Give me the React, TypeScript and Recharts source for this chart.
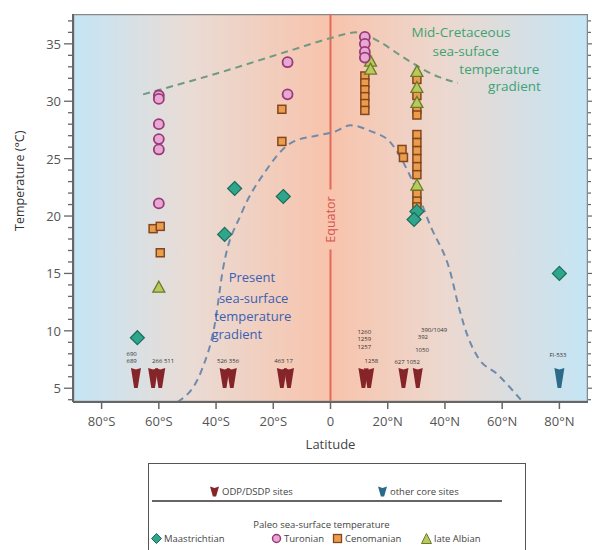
import React from "react";
import {
  ComposedChart,
  XAxis,
  YAxis,
  Scatter,
  Line,
  ReferenceArea,
  ReferenceLine,
} from "recharts";

// ---------- data ----------
const xTicks = [-80, -60, -40, -20, 0, 20, 40, 60, 80];
const yTicks = [4, 5, 6, 7, 8, 9, 10, 11, 12, 13, 14, 15, 16, 17, 18, 19, 20, 21, 22, 23, 24, 25, 26, 27, 28, 29, 30, 31, 32, 33, 34, 35, 36, 37];

const maastrichtian = [
  { lat: -67.5, t: 9.4 },
  { lat: -37, t: 18.4 },
  { lat: -33.5, t: 22.4 },
  { lat: -16.5, t: 21.7 },
  { lat: 30.2, t: 20.4 },
  { lat: 29.2, t: 19.7 },
  { lat: 80, t: 15.0 },
];

const turonian = [
  { lat: -60, t: 30.5 },
  { lat: -60, t: 30.2 },
  { lat: -60, t: 28.0 },
  { lat: -60, t: 26.7 },
  { lat: -60, t: 25.8 },
  { lat: -60, t: 21.1 },
  { lat: -15, t: 33.4 },
  { lat: -15, t: 30.6 },
  { lat: 12, t: 35.6 },
  { lat: 12, t: 35.0 },
  { lat: 12, t: 34.3 },
  { lat: 12, t: 33.8 },
];

const cenomanian = [
  { lat: -62, t: 18.9 },
  { lat: -59.5, t: 19.1 },
  { lat: -59.5, t: 16.8 },
  { lat: -17, t: 29.3 },
  { lat: -17, t: 26.5 },
  { lat: 12, t: 32.2 },
  { lat: 12, t: 31.6 },
  { lat: 12, t: 31.0 },
  { lat: 12, t: 30.4 },
  { lat: 12, t: 29.8 },
  { lat: 12, t: 29.2 },
  { lat: 25, t: 25.8 },
  { lat: 25.5, t: 25.1 },
  { lat: 30.2, t: 31.9 },
  { lat: 30.2, t: 30.5 },
  { lat: 30.2, t: 29.3 },
  { lat: 30.2, t: 28.8 },
  { lat: 30.2, t: 27.1 },
  { lat: 30.2, t: 26.4 },
  { lat: 30.2, t: 25.7 },
  { lat: 30.2, t: 25.0 },
  { lat: 30.2, t: 24.3 },
  { lat: 30.2, t: 23.6 },
  { lat: 30.2, t: 21.9 },
  { lat: 30.2, t: 21.3 },
  { lat: 30.2, t: 20.8 },
];

const lateAlbian = [
  { lat: -60, t: 13.8 },
  { lat: 14, t: 33.5 },
  { lat: 14, t: 32.8 },
  { lat: 30.2, t: 32.6 },
  { lat: 30.2, t: 31.2 },
  { lat: 30.2, t: 29.9 },
  { lat: 30.2, t: 22.7 },
];

const odpSites = [
  { lat: -68, t: 5.9 },
  { lat: -62, t: 5.9 },
  { lat: -59.5, t: 5.9 },
  { lat: -37, t: 5.9 },
  { lat: -34.5, t: 5.9 },
  { lat: -17, t: 5.9 },
  { lat: -14.5, t: 5.9 },
  { lat: 11.5, t: 5.9 },
  { lat: 13.5, t: 5.9 },
  { lat: 25.5, t: 5.9 },
  { lat: 30.5, t: 5.9 },
];

const otherSites = [{ lat: 80, t: 5.9 }];

const siteLabels = [
  { lat: -69.5, t: 7.95, text: "690" },
  { lat: -69.5, t: 7.35, text: "689" },
  { lat: -58.5, t: 7.35, text: "266 511" },
  { lat: -35.8, t: 7.35, text: "526 356" },
  { lat: -16.4, t: 7.35, text: "463 17" },
  { lat: 11.8, t: 9.9, text: "1260" },
  { lat: 11.8, t: 9.25, text: "1259" },
  { lat: 11.8, t: 8.6, text: "1257" },
  { lat: 14.3, t: 7.4, text: "1258" },
  { lat: 26.8, t: 7.3, text: "627 1052" },
  { lat: 32, t: 8.3, text: "1050" },
  { lat: 32.3, t: 9.45, text: "392" },
  { lat: 36.2, t: 10.1, text: "390/1049" },
  { lat: 79.5, t: 7.9, text: "FI-533" },
];

const midCretaceous = [
  { lat: -65.5, t: 30.6 },
  { lat: -40, t: 32.4 },
  { lat: -13, t: 34.5 },
  { lat: 0, t: 35.5 },
  { lat: 9, t: 36.0 },
  { lat: 17, t: 35.2 },
  { lat: 25, t: 33.9 },
  { lat: 38, t: 32.1 },
  { lat: 44.5, t: 31.6 },
];

const present = [
  { lat: -53.5, t: 3.8 },
  { lat: -45, t: 6.6 },
  { lat: -40.5, t: 10.5 },
  { lat: -37.5, t: 15.5 },
  { lat: -31, t: 20.3 },
  { lat: -23, t: 23.8 },
  { lat: -13.6, t: 26.4 },
  { lat: -5, t: 27.0 },
  { lat: 1, t: 27.3 },
  { lat: 7, t: 27.9 },
  { lat: 14, t: 27.4 },
  { lat: 21, t: 26.4 },
  { lat: 28, t: 23.4 },
  { lat: 35, t: 19.1 },
  { lat: 42, t: 15.0 },
  { lat: 44.5, t: 12.4 },
  { lat: 48, t: 9.5 },
  { lat: 51.5, t: 7.7 },
  { lat: 58.4, t: 6.2 },
  { lat: 66.5, t: 4.0 },
];

const midCretText = [
  { lat: 45.6, t: 36.0, text: "Mid-Cretaceous" },
  { lat: 47.3, t: 34.4, text: "sea-suface" },
  { lat: 59, t: 32.8, text: "temperature" },
  { lat: 64.3, t: 31.3, text: "gradient" },
];

const presentText = [
  { lat: -35.6, t: 14.7, text: "Present" },
  { lat: -39, t: 12.9, text: "sea-surface" },
  { lat: -40.6, t: 11.3, text: "temperature" },
  { lat: -41.6, t: 9.7, text: "gradient" },
];

const equatorLabel = [{ lat: 0, t: 19.7, text: "Equator" }];

// ---------- styles ----------
const FONT = "'Open Sans', 'DejaVu Sans', sans-serif";
const C = {
  maas: { fill: "#2fa68c", stroke: "#1a6d5c" },
  tur: { fill: "#e8a8d4", stroke: "#9a3a78" },
  cen: { fill: "#eb9d4e", stroke: "#84461e" },
  alb: { fill: "#b7cb5c", stroke: "#6c7b2a" },
  odp: "#862529",
  other: "#2b6a88",
};

const Diamond = (p: any) => (
  <path
    d={`M${p.cx},${p.cy - 7} L${p.cx + 7},${p.cy} L${p.cx},${p.cy + 7} L${p.cx - 7},${p.cy} Z`}
    fill={C.maas.fill}
    stroke={C.maas.stroke}
    strokeWidth={1.2}
  />
);
const Circle = (p: any) => (
  <circle cx={p.cx} cy={p.cy} r={5} fill={C.tur.fill} stroke={C.tur.stroke} strokeWidth={1.8} />
);
const Square = (p: any) => (
  <rect x={p.cx - 4} y={p.cy - 4} width={8} height={8} fill={C.cen.fill} stroke={C.cen.stroke} strokeWidth={1.5} />
);
const Triangle = (p: any) => (
  <path
    d={`M${p.cx},${p.cy - 6} L${p.cx + 6},${p.cy + 5} L${p.cx - 6},${p.cy + 5} Z`}
    fill={C.alb.fill}
    stroke={C.alb.stroke}
    strokeWidth={1.3}
  />
);
const siteShape = (color: string) => (p: any) => (
  <path
    d={`M${p.cx - 5},${p.cy - 10} L${p.cx},${p.cy - 8.5} L${p.cx + 5},${p.cy - 10} L${p.cx + 1.8},${p.cy + 10} L${p.cx - 1.8},${p.cy + 10} Z`}
    fill={color}
  />
);
const SmallText = (p: any) => (
  <text x={p.cx} y={p.cy} textAnchor="middle" dominantBaseline="central" fontSize={6} fill="#333" fontFamily={FONT}>
    {p.payload.text}
  </text>
);
const MidText = (p: any) => (
  <text x={p.cx} y={p.cy} textAnchor="middle" dominantBaseline="central" fontSize={13.5} fill="#3da374" fontFamily={FONT}>
    {p.payload.text}
  </text>
);
const PresentTxt = (p: any) => (
  <text x={p.cx} y={p.cy} textAnchor="start" dominantBaseline="central" fontSize={13} fill="#3b5fb3" fontFamily={FONT}>
    {p.payload.text}
  </text>
);
const EquatorTxt = (p: any) => (
  <g>
    <rect x={p.cx - 8} y={p.cy - 30} width={16} height={60} fill="#f8c4ad" />
    <text
      x={p.cx}
      y={p.cy}
      transform={`rotate(-90, ${p.cx}, ${p.cy})`}
      textAnchor="middle"
      dominantBaseline="central"
      fontSize={12.5}
      fill="#d4554f"
      fontFamily={FONT}
    >
      {p.payload.text}
    </text>
  </g>
);

const fmtLat = (v: number) => (v < 0 ? `${-v}°S` : v > 0 ? `${v}°N` : "0");

const XTick = (p: any) => (
  <g>
    <line x1={p.x} x2={p.x} y1={p.y} y2={p.y + 7} stroke="#666" strokeWidth={1.5} />
    <text x={p.x} y={p.y + 19} textAnchor="middle" dominantBaseline="central" fontSize={13} fill="#555" fontFamily={FONT}>
      {fmtLat(p.payload.value)}
    </text>
  </g>
);
const YTick = (p: any) => {
  const v = p.payload.value;
  const major = v % 5 === 0;
  return (
    <g>
      <line x1={p.x - (major ? 9 : 5)} x2={p.x} y1={p.y} y2={p.y} stroke="#666" strokeWidth={1.3} />
      {major && (
        <text x={p.x - 12} y={p.y} textAnchor="end" dominantBaseline="central" fontSize={13} fill="#555" fontFamily={FONT}>
          {v}
        </text>
      )}
    </g>
  );
};
const YTickRight = (p: any) => {
  const v = p.payload.value;
  const major = v % 5 === 0;
  return <line x1={p.x} x2={p.x + (major ? 4 : 3)} y1={p.y} y2={p.y} stroke="#666" strokeWidth={1.2} />;
};

const LegendIcon = ({ kind, color }: { kind: string; color?: string }) => {
  const s = 11;
  let el: any = null;
  if (kind === "site") el = <path d="M1,0.5 L5.5,2 L10,0.5 L7.1,10.5 L3.9,10.5 Z" fill={color} />;
  if (kind === "maas") el = <path d="M5.5,0.5 L10.5,5.5 L5.5,10.5 L0.5,5.5 Z" fill={C.maas.fill} stroke={C.maas.stroke} />;
  if (kind === "tur") el = <circle cx={5.5} cy={5.5} r={4} fill={C.tur.fill} stroke={C.tur.stroke} strokeWidth={1.5} />;
  if (kind === "cen") el = <rect x={1.5} y={1.5} width={8} height={8} fill={C.cen.fill} stroke={C.cen.stroke} strokeWidth={1.3} />;
  if (kind === "alb") el = <path d="M5.5,0.5 L10.5,10.5 L0.5,10.5 Z" fill={C.alb.fill} stroke={C.alb.stroke} />;
  return (
    <svg width={s} height={s} style={{ display: "inline-block", verticalAlign: "-2px", marginRight: 2 }}>
      {el}
    </svg>
  );
};

const row: React.CSSProperties = { position: "absolute", whiteSpace: "nowrap", lineHeight: "12px", height: 12 };

export default function App() {
  return (
    <div style={{ position: "absolute", left: 0, top: 0, width: 592, height: 550, background: "#fff", fontFamily: FONT, overflow: "hidden" }}>
      <svg width={0} height={0} style={{ position: "absolute" }}>
        <defs>
          <linearGradient id="bgGrad" x1="0" y1="0" x2="1" y2="0">
            <stop offset="0%" stopColor="#c4e5f5" />
            <stop offset="22%" stopColor="#e9dcd6" />
            <stop offset="50%" stopColor="#f8c3ab" />
            <stop offset="72%" stopColor="#ecd8cf" />
            <stop offset="100%" stopColor="#c4e5f5" />
          </linearGradient>
        </defs>
      </svg>
      <ComposedChart width={592} height={460} margin={{ top: 14, right: 0, bottom: 0, left: 0 }}>
        <XAxis
          type="number"
          dataKey="lat"
          domain={[-90, 90]}
          ticks={xTicks}
          allowDataOverflow
          height={58}
          tickSize={0}
          tickMargin={0}
          tick={<XTick />}
          tickLine={false}
          axisLine={{ stroke: "#666", strokeWidth: 2 }}
          interval={0}
          label={{ value: "Latitude", position: "insideBottom", offset: 11, fontSize: 13, fill: "#444", fontFamily: FONT }}
        />
        <YAxis
          type="number"
          domain={[3.8, 37.6]}
          ticks={yTicks}
          allowDataOverflow
          width={73}
          tickSize={0}
          tickMargin={0}
          tick={<YTick />}
          tickLine={false}
          interval={0}
          axisLine={{ stroke: "#666", strokeWidth: 2 }}
          label={{
            position: "insideLeft",
            content: (props: any) => {
              const vb = props.viewBox || {};
              const x = (vb.x || 0) + 20;
              const y = (vb.y || 0) + (vb.height || 0) * 0.43;
              return (
                <text
                  x={x}
                  y={y}
                  transform={`rotate(-90, ${x}, ${y})`}
                  textAnchor="middle"
                  dominantBaseline="central"
                  fontSize={12.5}
                  fill="#333"
                  fontFamily={FONT}
                >
                  Temperature (°C)
                </text>
              );
            },
          }}
        />
        <YAxis
          yAxisId="right"
          orientation="right"
          type="number"
          domain={[3.8, 37.6]}
          ticks={yTicks}
          allowDataOverflow
          width={4}
          tickSize={0}
          tickMargin={0}
          tick={<YTickRight />}
          tickLine={false}
          axisLine={false}
          interval={0}
        />
        <ReferenceArea x1={-90} x2={90} y1={3.8} y2={37.6} fill="url(#bgGrad)" fillOpacity={1} stroke="#888" strokeWidth={2.5} ifOverflow="hidden" />
        <ReferenceLine x={0} stroke="#e06a5c" strokeWidth={2} />
        <Line data={midCretaceous} dataKey="t" type="monotone" stroke="#6f9a82" strokeWidth={2} strokeDasharray="7 5" dot={false} isAnimationActive={false} />
        <Line data={present} dataKey="t" type="monotone" stroke="#6f8bab" strokeWidth={2} strokeDasharray="7 5" dot={false} isAnimationActive={false} />
        <Scatter data={equatorLabel} dataKey="t" shape={EquatorTxt} isAnimationActive={false} />
        <Scatter data={midCretText} dataKey="t" shape={MidText} isAnimationActive={false} />
        <Scatter data={presentText} dataKey="t" shape={PresentTxt} isAnimationActive={false} />
        <Scatter data={siteLabels} dataKey="t" shape={SmallText} isAnimationActive={false} />
        <Scatter data={odpSites} dataKey="t" shape={siteShape(C.odp)} isAnimationActive={false} />
        <Scatter data={otherSites} dataKey="t" shape={siteShape(C.other)} isAnimationActive={false} />
        <Scatter data={cenomanian} dataKey="t" shape={Square} isAnimationActive={false} />
        <Scatter data={lateAlbian} dataKey="t" shape={Triangle} isAnimationActive={false} />
        <Scatter data={turonian} dataKey="t" shape={Circle} isAnimationActive={false} />
        <Scatter data={maastrichtian} dataKey="t" shape={Diamond} isAnimationActive={false} />
      </ComposedChart>
      <div
        style={{
          position: "absolute",
          left: 148,
          top: 463,
          width: 378,
          height: 90,
          border: "1.5px solid #555",
          boxSizing: "border-box",
          fontSize: 9.5,
          color: "#444",
        }}
      >
        <div style={{ ...row, left: 60, top: 22 }}>
          <LegendIcon kind="site" color={C.odp} />ODP/DSDP sites
        </div>
        <div style={{ ...row, left: 228, top: 22 }}>
          <LegendIcon kind="site" color={C.other} />other core sites
        </div>
        <div style={{ position: "absolute", left: 3, top: 36, width: 350, borderTop: "2px solid #666" }} />
        <div style={{ ...row, left: 0, top: 55, width: 345, textAlign: "center" }}>
          Paleo sea-surface temperature
        </div>
        <div style={{ ...row, left: 2, top: 69 }}>
          <LegendIcon kind="maas" />Maastrichtian
        </div>
        <div style={{ ...row, left: 122, top: 69 }}>
          <LegendIcon kind="tur" />Turonian
        </div>
        <div style={{ ...row, left: 183, top: 69 }}>
          <LegendIcon kind="cen" />Cenomanian
        </div>
        <div style={{ ...row, left: 272, top: 69 }}>
          <LegendIcon kind="alb" />late Albian
        </div>
      </div>
    </div>
  );
}
